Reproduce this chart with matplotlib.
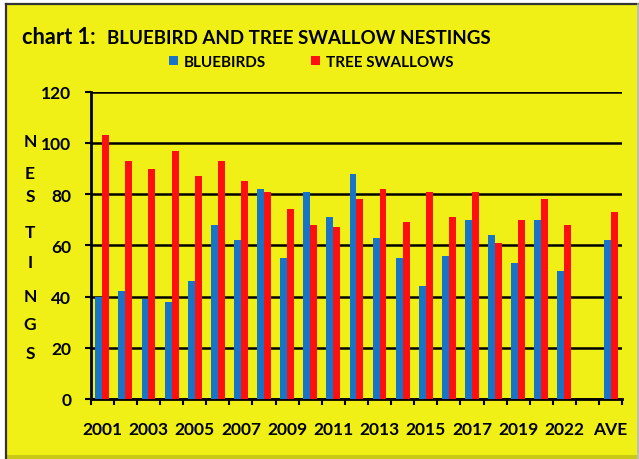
import numpy as np
import matplotlib.pyplot as plt
from matplotlib.patches import Rectangle
from matplotlib.ticker import FixedLocator

# chart data
years = ['2001', '2002', '2003', '2004', '2005', '2006', '2007', '2008', '2009', '2010',
         '2011', '2012', '2013', '2014', '2015', '2016', '2017', '2018', '2019', '2020',
         '2022', '', 'AVE']
bluebirds = [40, 42, 39, 38, 46, 68, 62, 82, 55, 81,
             71, 88, 63, 55, 44, 56, 70, 64, 53, 70,
             50, np.nan, 62]
swallows = [103, 93, 90, 97, 87, 93, 85, 81, 74, 68,
            67, 78, 82, 69, 81, 71, 81, 61, 70, 78,
            68, np.nan, 73]
y_ticks = [0, 20, 40, 60, 80, 100, 120]

yellow = '#f0f016'
blue = '#1874c6'
red = '#ff1010'

plt.rcParams['font.family'] = ['Lato', 'DejaVu Sans']
plt.rcParams['font.weight'] = 'bold'

W, H = 639, 460
fig = plt.figure(figsize=(W / 100, H / 100), dpi=100, facecolor='white')

# yellow panel with a dark frame on the left and top
fig.patches.append(Rectangle((6 / W, 0), 631 / W, 1 - 5 / H, transform=fig.transFigure,
                             facecolor=yellow, edgecolor='none', zorder=-10))
fig.patches.append(Rectangle((6 / W, 0), 631 / W, 4 / H, transform=fig.transFigure,
                             facecolor='#c9c915', edgecolor='none', zorder=-9))
fig.add_artist(plt.Line2D([5.5 / W, 5.5 / W], [0, 1 - 4.5 / H], transform=fig.transFigure,
                          color='#333333', lw=1.6, zorder=-8))
fig.add_artist(plt.Line2D([5.5 / W, 1], [1 - 4.5 / H, 1 - 4.5 / H], transform=fig.transFigure,
                          color='#333333', lw=1.6, zorder=-8))
fig.add_artist(plt.Line2D([637.5 / W, 637.5 / W], [0, 1 - 5 / H], transform=fig.transFigure,
                          color='#b0b0b0', lw=1.2, zorder=-8))

ax = fig.add_axes([90.7 / W, 1 - 400 / H, 531.5 / W, 307.3 / H])
ax.set_facecolor(yellow)

x = np.arange(len(years))
w = 0.3
b1 = ax.bar(x - w / 2, bluebirds, w, color=blue, zorder=3)
b2 = ax.bar(x + w / 2, swallows, w, color=red, zorder=3)

ax.set_xlim(-0.5, len(years) - 0.5)
ax.set_ylim(0, 120)
ax.set_yticks(y_ticks)
ax.yaxis.grid(True, color='black', lw=1.8, zorder=1)
ax.set_axisbelow(True)

ax.set_xticks(x[::2])
ax.set_xticklabels(years[::2])
ax.xaxis.set_minor_locator(FixedLocator(np.arange(len(years) + 1) - 0.5))
ax.tick_params(axis='x', which='major', length=0, pad=16, labelsize=12.5)
ax.tick_params(axis='x', which='minor', length=4.5, width=1.5, direction='out')
ax.tick_params(axis='y', length=4.5, width=1.5, pad=9.5, labelsize=12.5)

for s in ['top', 'right']:
    ax.spines[s].set_visible(False)
for s in ['left', 'bottom']:
    ax.spines[s].set_linewidth(2)

# vertical stacked axis label
letters = 'NESTINGS'
ys = [142, 174, 197, 233, 263, 297, 325, 354]
for ch, yy in zip(letters, ys):
    fig.text(30 / W, 1 - yy / H, ch, ha='center', va='center', fontsize=12.5, fontweight='bold')

fig.text(22 / W, 1 - 38 / H, 'chart 1:', ha='left', va='center', fontsize=15.7, fontweight='bold')
fig.text(107 / W, 1 - 38 / H, 'BLUEBIRD AND TREE SWALLOW NESTINGS', ha='left', va='center',
         fontsize=13.5, fontweight='bold', family=['Liberation Sans Narrow', 'Lato'])

fig.legend([b1, b2], ['BLUEBIRDS', 'TREE SWALLOWS'], ncol=2, loc='center',
           bbox_to_anchor=(311 / W, 1 - 63 / H), frameon=False, fontsize=11,
           handlelength=0.6, handleheight=0.6, handletextpad=0.35, columnspacing=3.0)

fig.savefig('out.png', dpi=100, facecolor=fig.get_facecolor())
